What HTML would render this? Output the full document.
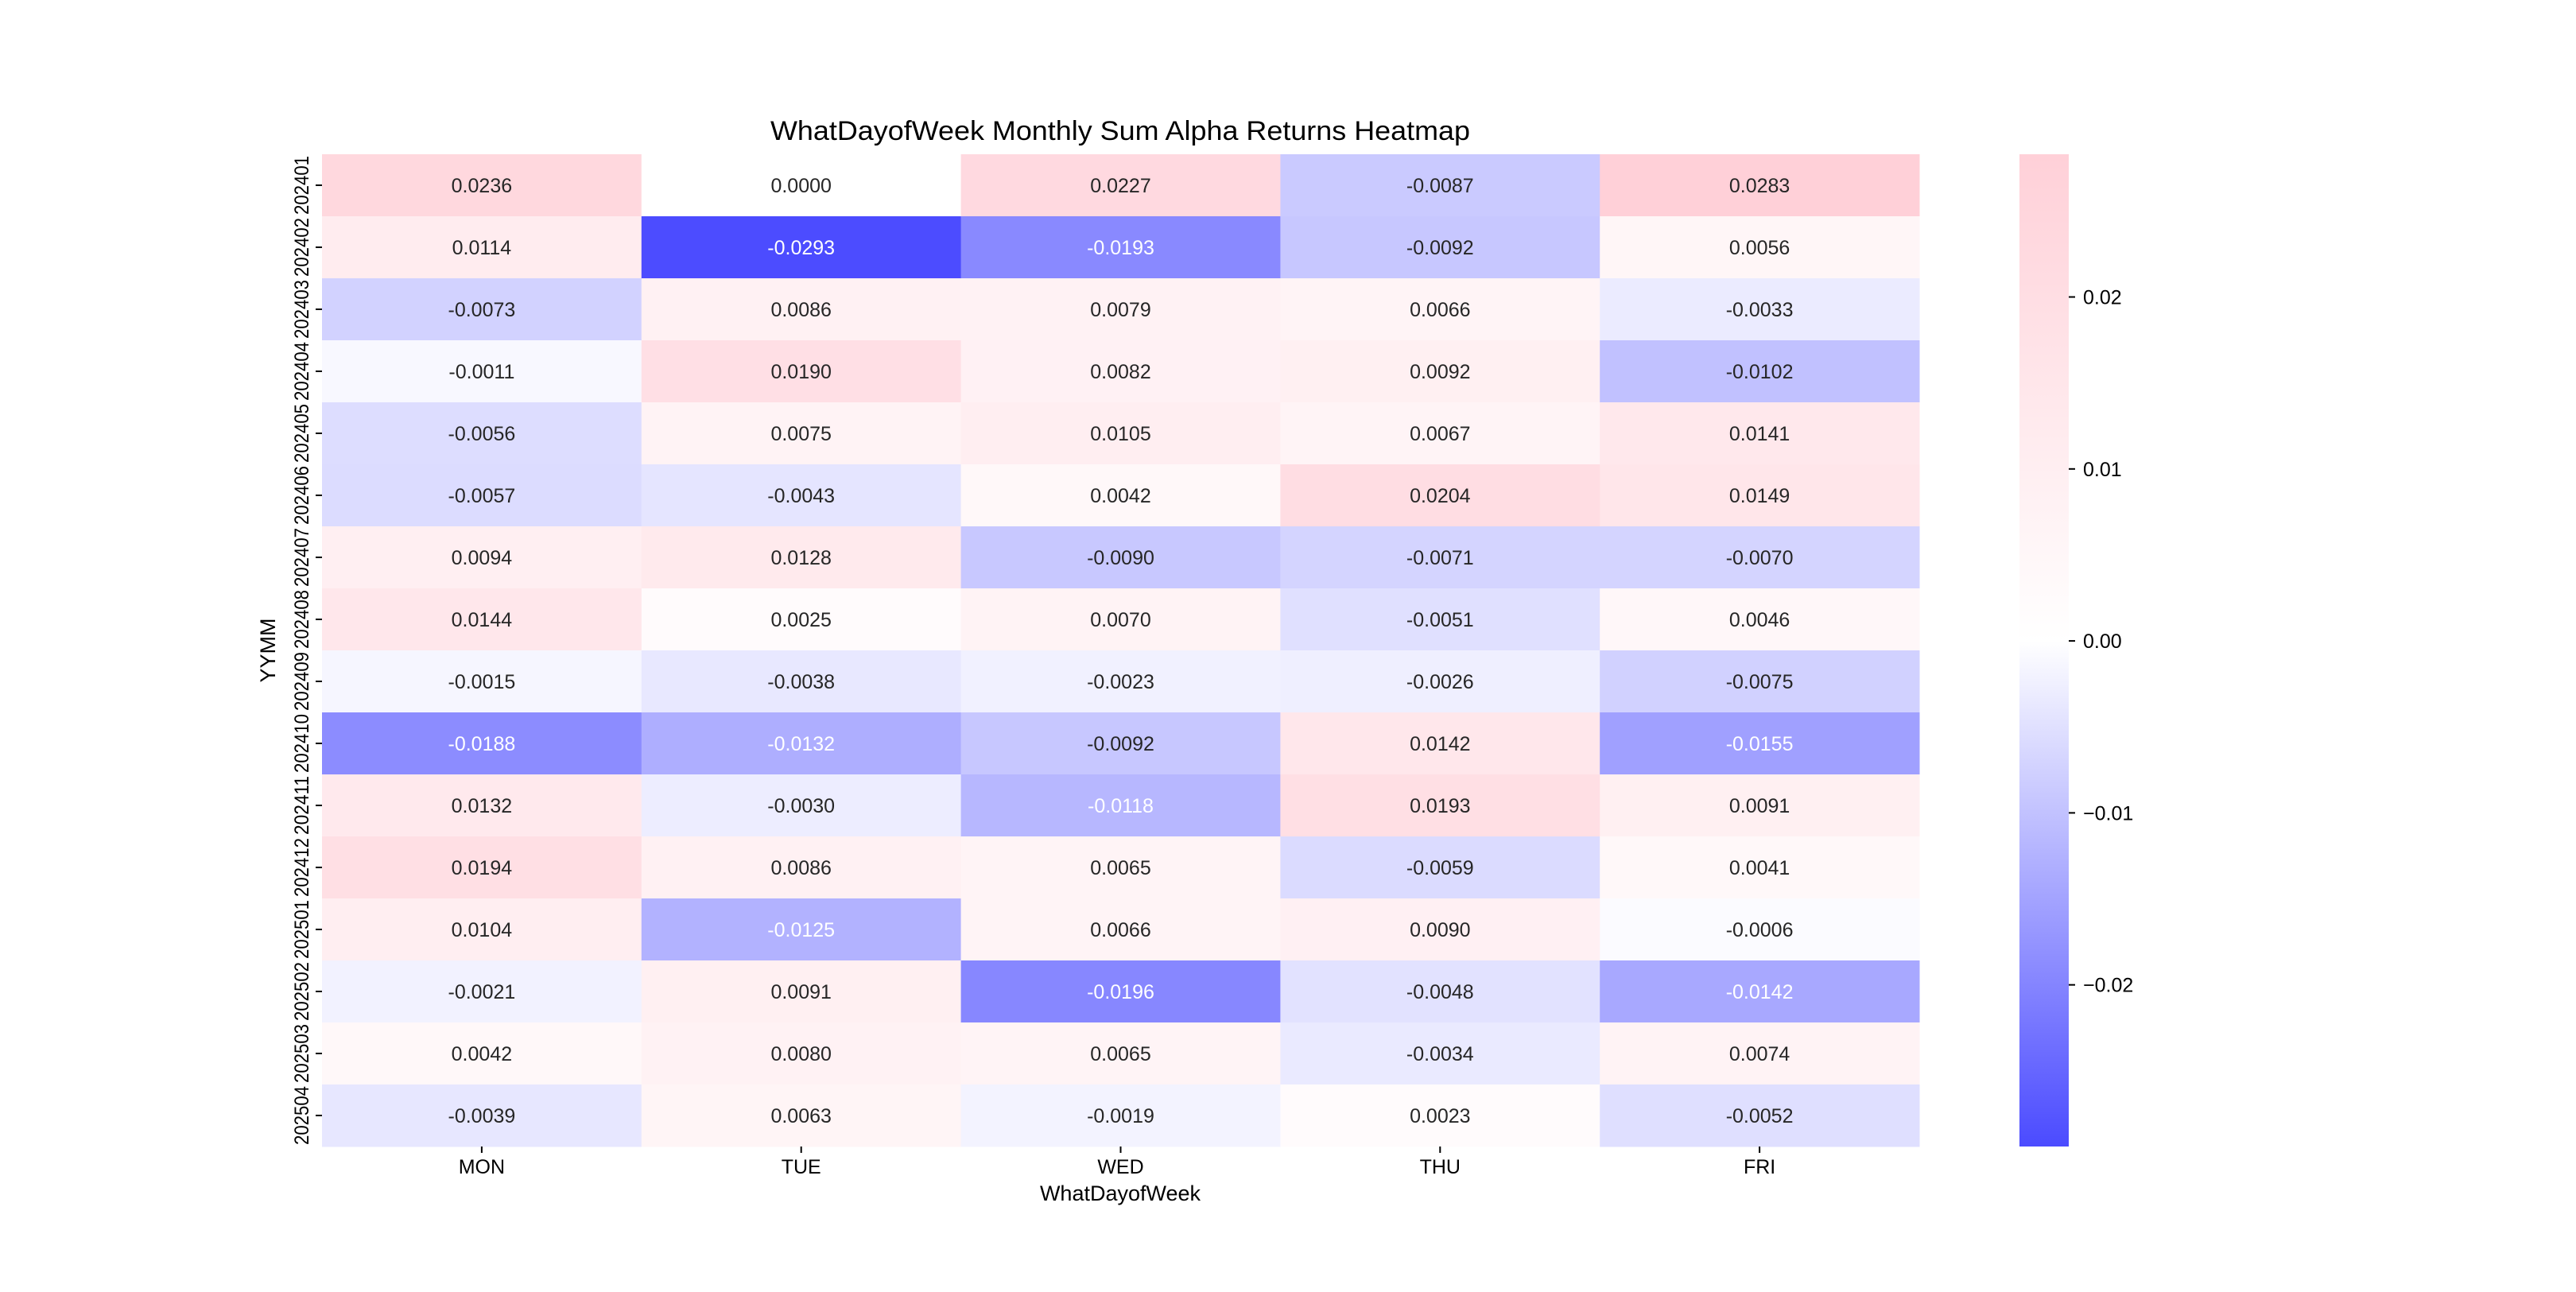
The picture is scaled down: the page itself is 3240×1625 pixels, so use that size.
<!DOCTYPE html>
<html><head><meta charset="utf-8"><style>
html,body{margin:0;padding:0;background:#fff;}
svg text{font-family:"Liberation Sans","WenQuanYi Zen Hei",sans-serif;}
</style></head><body>
<svg id="chart" width="3240" height="1620" viewBox="0 0 3240 1620" xmlns="http://www.w3.org/2000/svg">
<defs><linearGradient id="cbgrad" x1="0" y1="1" x2="0" y2="0">
<stop offset="0" stop-color="rgb(75,75,255)"/><stop offset="0.5095" stop-color="#ffffff"/><stop offset="1" stop-color="rgb(255,208,216)"/>
</linearGradient></defs>
<text x="1409" y="176" font-size="34" text-anchor="middle" fill="#000" textLength="880" lengthAdjust="spacingAndGlyphs">WhatDayofWeek Monthly Sum Alpha Returns Heatmap</text>
<g id="cells"></g>
<g id="ylabels"></g>
<g id="xlabels"></g>
<text x="1409" y="1510" font-size="27" text-anchor="middle" fill="#000">WhatDayofWeek</text>
<text x="0" y="0" font-size="27" text-anchor="middle" fill="#000" transform="translate(346,818) rotate(-90)">YYMM</text>
<rect x="2540" y="194" width="62" height="1248" fill="url(#cbgrad)"/>
<g id="cbticks"></g>
</svg>
<script>
const days = ["MON","TUE","WED","THU","FRI"];
const months = ["202401","202402","202403","202404","202405","202406","202407","202408","202409","202410","202411","202412","202501","202502","202503","202504"];
const mon = [0.0236,0.0114,-0.0073,-0.0011,-0.0056,-0.0057,0.0094,0.0144,-0.0015,-0.0188,0.0132,0.0194,0.0104,-0.0021,0.0042,-0.0039];
const tue = [0.0000,-0.0293,0.0086,0.0190,0.0075,-0.0043,0.0128,0.0025,-0.0038,-0.0132,-0.0030,0.0086,-0.0125,0.0091,0.0080,0.0063];
const wed = [0.0227,-0.0193,0.0079,0.0082,0.0105,0.0042,-0.0090,0.0070,-0.0023,-0.0092,-0.0118,0.0065,0.0066,-0.0196,0.0065,-0.0019];
const thu = [-0.0087,-0.0092,0.0066,0.0092,0.0067,0.0204,-0.0071,-0.0051,-0.0026,0.0142,0.0193,-0.0059,0.0090,-0.0048,-0.0034,0.0023];
const fri = [0.0283,0.0056,-0.0033,-0.0102,0.0141,0.0149,-0.0070,0.0046,-0.0075,-0.0155,0.0091,0.0041,-0.0006,-0.0142,0.0074,-0.0052];
const cbTicks = [0.02,0.01,0.00,-0.01,-0.02];
const vmin = -0.0294, vmax = 0.0283;

const NS="http://www.w3.org/2000/svg";
const L=405,R=2414,T=194,B=1442;
const cw=(R-L)/days.length, rh=(B-T)/months.length;
const xPos=i=>L+i*cw, yPos=j=>T+j*rh;
const cbY=v=>T+(vmax-v)/(vmax-vmin)*(B-T);
function color(v){
  let c;
  if(v>=0){const t=Math.min(v/vmax,1);c=[255,255-47*t,255-39*t];}
  else{const t=Math.min(v/vmin,1);c=[255-180*t,255-180*t,255];}
  return "rgb("+c.map(Math.round).join(",")+")";
}
function mk(tag,attrs,parent){const e=document.createElementNS(NS,tag);for(const k in attrs)e.setAttribute(k,attrs[k]);parent.appendChild(e);return e;}
const series=[mon,tue,wed,thu,fri];
const cells=document.getElementById("cells");
series.forEach((arr,i)=>{arr.forEach((v,j)=>{
  const r=mk("rect",{x:xPos(i),y:yPos(j),width:cw+0.5,height:rh+0.5,fill:color(v)},cells);
  
  
  const t=mk("text",{x:xPos(i)+cw/2,y:yPos(j)+rh/2+9,"font-size":25,"text-anchor":"middle",fill:(v<-0.0105?"#fff":"#262626")},cells);
  t.textContent=v.toFixed(4);
  
  
});});
const yl=document.getElementById("ylabels");
months.forEach((m,j)=>{
  const y=yPos(j)+rh/2;
  const tk=mk("line",{x1:L-8,x2:L,y1:y,y2:y,stroke:"#000","stroke-width":2},yl);
  
  
  const t=mk("text",{x:0,y:0,"font-size":25,"text-anchor":"middle",fill:"#000",textLength:74,lengthAdjust:"spacingAndGlyphs",transform:"translate("+(L-17)+","+y+") rotate(-90)"},yl);
  t.textContent=m;
  
  
});
const xl=document.getElementById("xlabels");
days.forEach((d,i)=>{
  const x=xPos(i)+cw/2;
  const tk=mk("line",{x1:x,x2:x,y1:B,y2:B+8,stroke:"#000","stroke-width":2},xl);
  
  
  const t=mk("text",{x:x,y:B+34,"font-size":25,"text-anchor":"middle",fill:"#000"},xl);
  t.textContent=d;
  
  
});
const cb=document.getElementById("cbticks");
cbTicks.forEach(v=>{
  const y=cbY(v);
  const tk=mk("line",{x1:2602,x2:2610,y1:y,y2:y,stroke:"#000","stroke-width":2},cb);
  
  
  const t=mk("text",{x:2620,y:y+9,"font-size":25,fill:"#000"},cb);
  t.textContent=(v<0?"\u2212"+Math.abs(v).toFixed(2):v.toFixed(2));
  
  
});
</script>
</body></html>
